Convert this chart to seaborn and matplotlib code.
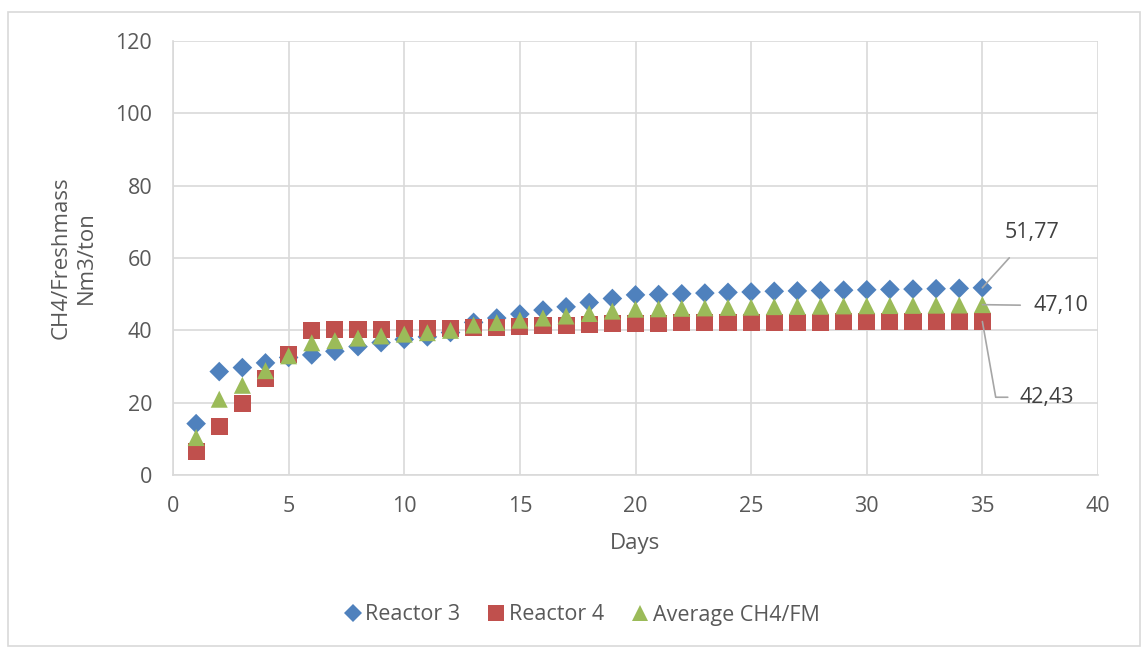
import matplotlib
matplotlib.use("Agg")
import matplotlib.pyplot as plt
import matplotlib.patches as mpatches
import seaborn as sns
import pandas as pd

days = list(range(1, 36))
reactor3 = [14.2, 28.6, 29.7, 31.0, 32.5, 33.2, 34.2, 35.5, 36.6, 37.5,
            38.2, 39.4, 42.2, 43.4, 44.5, 45.6, 46.5, 47.7, 48.8, 49.8,
            49.9, 50.1, 50.3, 50.5, 50.6, 50.8, 50.9, 51.0, 51.1, 51.2,
            51.3, 51.4, 51.5, 51.6, 51.77]
reactor4 = [6.5, 13.3, 19.9, 26.7, 33.4, 39.9, 40.1, 40.2, 40.3, 40.4,
            40.5, 40.6, 40.7, 40.9, 41.1, 41.2, 41.4, 41.6, 41.8, 41.9,
            42.0, 42.1, 42.1, 42.2, 42.2, 42.3, 42.3, 42.3, 42.4, 42.4,
            42.4, 42.4, 42.4, 42.4, 42.43]
average = [10.35, 20.95, 24.8, 28.85, 32.95, 36.55, 37.15, 37.85, 38.45, 38.95,
           39.35, 40.0, 41.45, 42.15, 42.8, 43.4, 43.95, 44.65, 45.3, 45.85,
           45.95, 46.1, 46.2, 46.35, 46.4, 46.55, 46.6, 46.65, 46.75, 46.8,
           46.85, 46.9, 46.95, 47.0, 47.10]
series_names = ["Reactor 3", "Reactor 4", "Average CH4/FM"]

df = pd.DataFrame({
    "Days": days * 3,
    "value": reactor3 + reactor4 + average,
    "series": [series_names[0]] * 35 + [series_names[1]] * 35 + [series_names[2]] * 35,
})

sns.set_theme(style="white")
plt.rcParams["font.family"] = ["Open Sans", "DejaVu Sans"]

text_color = "#595959"
grid_color = "#D9D9D9"
fs_tick = 15.5
fs_label = 16
palette = {"Reactor 3": "#4F81BD", "Reactor 4": "#C0504D", "Average CH4/FM": "#9BBB59"}
markers = {"Reactor 3": "D", "Reactor 4": "s", "Average CH4/FM": "^"}
sizes = {"Reactor 3": 100, "Reactor 4": 150, "Average CH4/FM": 150}

fig = plt.figure(figsize=(11.43, 6.48), dpi=100)
ax = fig.add_axes([173 / 1143, 1 - 475 / 648, (1098 - 173) / 1143, (475 - 41) / 648])

for name in series_names:
    sub = df[df["series"] == name]
    sns.scatterplot(data=sub, x="Days", y="value", ax=ax, color=palette[name],
                    marker=markers[name], s=sizes[name], edgecolor="none",
                    label=name, zorder=3, legend=False)

ax.set_xlim(0, 40)
ax.set_ylim(0, 120)
ax.set_xticks(range(0, 41, 5))
ax.set_yticks(range(0, 121, 20))
ax.grid(True, color=grid_color, linewidth=1.2)
ax.set_axisbelow(True)
for side, sp in ax.spines.items():
    sp.set_visible(side in ("left", "bottom"))
    sp.set_color(grid_color)
    sp.set_linewidth(1.2)
ax.tick_params(axis="both", length=0, labelsize=fs_tick, colors=text_color)
ax.tick_params(axis="x", pad=15)
ax.tick_params(axis="y", pad=15)
ax.set_xlabel("Days", fontsize=fs_label, color=text_color, labelpad=12)
ax.set_ylabel("CH4/Freshmass\nNm3/ton", fontsize=fs_label, color=text_color, labelpad=13,
              linespacing=1.25)

# end-point value labels with leader lines
lab_kw = dict(fontsize=fs_tick, color="#404040", zorder=4)
line_kw = dict(color="#A6A6A6", linewidth=1.2, zorder=2)
x_end = days[-1]
ax.annotate(f"{reactor3[-1]:.2f}".replace(".", ","), xy=(x_end, reactor3[-1]),
            xytext=(37.14, 67.0), ha="center", va="center",
            arrowprops=dict(arrowstyle="-", **line_kw, shrinkA=11, shrinkB=0), **lab_kw)
ax.annotate(f"{average[-1]:.2f}".replace(".", ","), xy=(x_end, average[-1]),
            xytext=(37.2, 46.8), ha="left", va="center",
            arrowprops=dict(arrowstyle="-", **line_kw, shrinkA=7, shrinkB=0), **lab_kw)
ax.annotate(f"{reactor4[-1]:.2f}".replace(".", ","), xy=(x_end, reactor4[-1]),
            xytext=(36.6, 21.5), ha="left", va="center",
            arrowprops=dict(arrowstyle="-", connectionstyle="angle,angleA=0,angleB=-80,rad=0",
                            **line_kw, shrinkA=6, shrinkB=0), **lab_kw)

handles = [plt.Line2D([], [], linestyle="none", marker=markers[n], color=palette[n],
                      markersize=9 if n == "Reactor 3" else 11, markeredgewidth=0)
           for n in series_names]
leg = fig.legend(handles, series_names, loc="center", ncol=3,
                 bbox_to_anchor=(0.508, 1 - 615 / 648), frameon=False,
                 fontsize=fs_tick, handletextpad=0.1, columnspacing=1.15, handlelength=1.0)
for t in leg.get_texts():
    t.set_color(text_color)

fig.patches.append(mpatches.Rectangle((8 / 1143, 2 / 648), 1132 / 1143, 634 / 648,
                                      transform=fig.transFigure, fill=False,
                                      edgecolor=grid_color, linewidth=1.2))

fig.savefig("out.png", dpi=100, facecolor="white")
